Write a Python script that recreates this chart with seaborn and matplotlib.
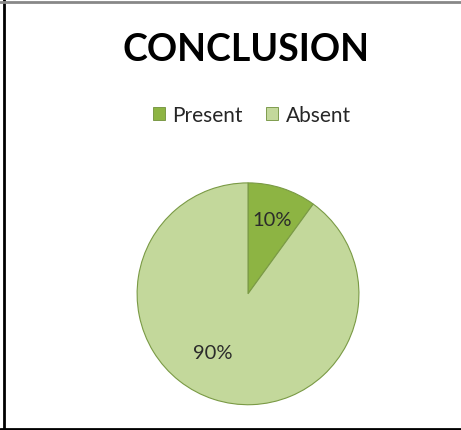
import matplotlib
matplotlib.use("Agg")
import matplotlib.pyplot as plt
import matplotlib.lines as mlines
import seaborn as sns

# Chart data
labels = ["Present", "Absent"]
values = [10, 90]
colors = ["#8db443", "#c3d89b"]

sns.set_theme(style="white")
plt.rcParams["font.family"] = ["Lato", "DejaVu Sans"]

fig = plt.figure(figsize=(4.61, 4.31), dpi=100)

# Pie placed where the reference draws it
ax = fig.add_axes([0.295, 0.056, 0.486, 0.52])
wedges, texts, autotexts = ax.pie(
    values, colors=colors, startangle=90, counterclock=False,
    autopct="%d%%", pctdistance=0.7,
    wedgeprops=dict(edgecolor="#7a9a45", linewidth=0.8),
    textprops=dict(fontsize=14.5, color="#2b2b2b"),
)
ax.set_xlim(-1.01, 1.01)
ax.set_ylim(-1.01, 1.01)
ax.set_aspect("equal")
autotexts[1].set_position((-0.32, -0.53))

fig.text(0.533, 0.883, "CONCLUSION", ha="center", va="center",
         fontsize=27, fontweight="bold", color="black")

# Legend above the pie
handles = [plt.Rectangle((0, 0), 1, 1, facecolor=c, edgecolor="#6f8f3a", linewidth=0.6)
           for c in colors]
fig.legend(handles, labels, loc="center", bbox_to_anchor=(0.546, 0.732), ncol=2,
           frameon=False, fontsize=15, handlelength=0.6, handleheight=0.6,
           handletextpad=0.35, columnspacing=1.1)

# Frame of the original chart
fig.add_artist(mlines.Line2D([4 / 461, 4 / 461], [0, 1], color="black", linewidth=2))
fig.add_artist(mlines.Line2D([0, 1], [1 - 3 / 431, 1 - 3 / 431], color="#888888", linewidth=2))
fig.add_artist(mlines.Line2D([0, 1], [1 / 431, 1 / 431], color="black", linewidth=2))

fig.savefig("out.png", dpi=100)
